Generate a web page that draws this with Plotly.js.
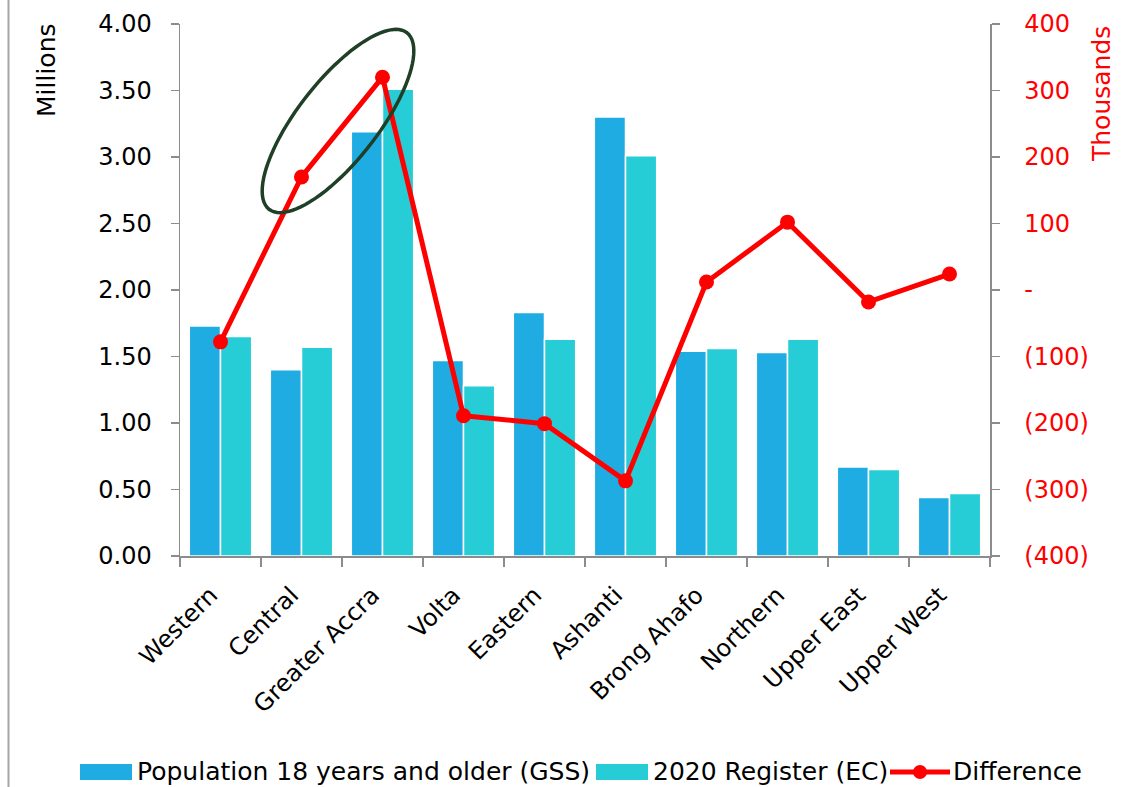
<!DOCTYPE html>
<html>
<head>
<meta charset="utf-8">
<script src="https://cdn.plot.ly/plotly-3.0.1.min.js"></script>
<style>html,body{margin:0;padding:0;background:#fff;}#chart{width:1130px;height:787px;}</style>
</head>
<body>
<div id="chart"></div>
<script>
// ---- data ----
const regions = ["Western","Central","Greater Accra","Volta","Eastern","Ashanti","Brong Ahafo","Northern","Upper East","Upper West"];
const populationGSS = [1.73, 1.40, 3.19, 1.47, 1.83, 3.30, 1.54, 1.53, 0.67, 0.44];   // millions
const registerEC   = [1.65, 1.57, 3.51, 1.28, 1.63, 3.01, 1.56, 1.63, 0.65, 0.47];   // millions
const difference   = [-78, 170, 320, -189, -201, -287, 12, 102, -18, 24];            // thousands
const leftTicks  = [0, 0.5, 1, 1.5, 2, 2.5, 3, 3.5, 4];
const rightTickVals = [-400, -300, -200, -100, 0, 100, 200, 300, 400];
const rightTickText = ["(400)", "(300)", "(200)", "(100)", "-", "100", "200", "300", "400"];
const seriesNames = ["Population 18 years and older (GSS)", "2020 Register (EC)", "Difference"];

// ---- styling ----
const W = 1130, H = 787;
const M = {l: 180, r: 140, t: 24, b: 231};
const PW = W - M.l - M.r, PH = H - M.t - M.b;
const FONT = "DejaVu Sans, Liberation Sans, Arial, sans-serif";
const BLUE = "#1FACE2", CYAN = "#27CDD6", RED = "#FF0000", GREEN = "#1F3F26", GRAY = "#8C8C8C";

// pixel -> paper helpers
const px = x => (x - M.l) / PW;
const py = y => (M.t + PH - y) / PH;

// ellipse annotation path (paper coords)
function ellipsePath(cx, cy, a, b, deg) {
  const th = deg * Math.PI / 180;
  const d1 = [Math.cos(th), -Math.sin(th)], d2 = [Math.sin(th), Math.cos(th)];
  let p = "";
  const n = 90;
  for (let i = 0; i <= n; i++) {
    const t = 2 * Math.PI * i / n;
    const x = cx + a * Math.cos(t) * d1[0] + b * Math.sin(t) * d2[0];
    const y = cy + a * Math.cos(t) * d1[1] + b * Math.sin(t) * d2[1];
    p += (i === 0 ? "M" : "L") + px(x).toFixed(5) + "," + py(y).toFixed(5);
  }
  return p + "Z";
}

const traces = [
  {type: "bar", x: regions, y: populationGSS, name: seriesNames[0],
   marker: {color: BLUE, line: {color: "#fff", width: 1.5}}, showlegend: false, hoverinfo: "x+y"},
  {type: "bar", x: regions, y: registerEC, name: seriesNames[1],
   marker: {color: CYAN, line: {color: "#fff", width: 1.5}}, showlegend: false, hoverinfo: "x+y"},
  {type: "scatter", mode: "lines+markers", x: regions, y: difference, yaxis: "y2", name: seriesNames[2],
   line: {color: RED, width: 5}, marker: {color: RED, size: 15}, showlegend: false}
];

const shapes = [
  {type: "path", xref: "paper", yref: "paper", path: ellipsePath(338, 121, 112, 40, 52),
   line: {color: GREEN, width: 3.5}, layer: "above"},
  {type: "line", xref: "paper", yref: "paper", x0: px(8.5), x1: px(8.5), y0: py(0), y1: py(H),
   line: {color: "#A6A6A6", width: 2}},
  // legend swatches
  {type: "rect", xref: "paper", yref: "paper", x0: px(80), x1: px(132), y0: py(780), y1: py(764),
   fillcolor: BLUE, line: {width: 0}},
  {type: "rect", xref: "paper", yref: "paper", x0: px(596), x1: px(648), y0: py(780), y1: py(764),
   fillcolor: CYAN, line: {width: 0}},
  {type: "line", xref: "paper", yref: "paper", x0: px(890), x1: px(950), y0: py(772), y1: py(772),
   line: {color: RED, width: 5}},
  {type: "circle", xref: "paper", yref: "paper", x0: px(913), x1: px(927), y0: py(779), y1: py(765),
   fillcolor: RED, line: {color: RED, width: 0}}
];

const legendFont = {family: FONT, size: 25, color: "#000"};
const annotations = [
  {xref: "paper", yref: "paper", x: px(135), y: py(772), xanchor: "left", yanchor: "middle",
   text: seriesNames[0], showarrow: false, font: legendFont},
  {xref: "paper", yref: "paper", x: px(651), y: py(772), xanchor: "left", yanchor: "middle",
   text: seriesNames[1], showarrow: false, font: legendFont},
  {xref: "paper", yref: "paper", x: px(951), y: py(772), xanchor: "left", yanchor: "middle",
   text: seriesNames[2], showarrow: false, font: legendFont},
  {xref: "paper", yref: "paper", x: px(47), y: py(70), xanchor: "center", yanchor: "middle",
   text: "Millions", textangle: -90, showarrow: false, font: {family: FONT, size: 25, color: "#000"}},
  {xref: "paper", yref: "paper", x: px(1102), y: py(94), xanchor: "center", yanchor: "middle",
   text: "Thousands", textangle: -90, showarrow: false, font: {family: FONT, size: 25, color: RED}}
];

const layout = {
  width: W, height: H,
  margin: M,
  paper_bgcolor: "#fff", plot_bgcolor: "#fff",
  font: {family: FONT, color: "#000"},
  barmode: "group", bargap: 0.23, bargroupgap: 0,
  showlegend: false,
  xaxis: {
    type: "category", range: [-0.5, regions.length - 0.5], showline: true, linecolor: GRAY, linewidth: 1.5,
    ticks: "outside", tickson: "boundaries", ticklen: 9, tickcolor: GRAY, tickwidth: 1.5,
    tickangle: -45, tickfont: {family: FONT, size: 24, color: "#000"},
    showgrid: false, zeroline: false, ticklabelstandoff: 14, ticklabelshift: -10
  },
  yaxis: {
    range: [0, 4], tickvals: leftTicks, tickformat: ".2f",
    showline: true, linecolor: GRAY, linewidth: 1.5,
    ticks: "outside", ticklen: 8, tickcolor: GRAY, tickwidth: 1.5,
    tickfont: {family: FONT, size: 24, color: "#000"},
    showgrid: false, zeroline: false, ticklabelstandoff: 14
  },
  yaxis2: {
    overlaying: "y", side: "right", range: [-400, 400],
    tickvals: rightTickVals, ticktext: rightTickText,
    showline: true, linecolor: GRAY, linewidth: 1.5,
    ticks: "outside", ticklen: 8, tickcolor: GRAY, tickwidth: 1.5,
    tickfont: {family: FONT, size: 24, color: RED},
    showgrid: false, zeroline: false, ticklabelstandoff: 20
  },
  shapes: shapes,
  annotations: annotations
};

Plotly.newPlot("chart", traces, layout, {displayModeBar: false, staticPlot: true});
</script>
</body>
</html>
